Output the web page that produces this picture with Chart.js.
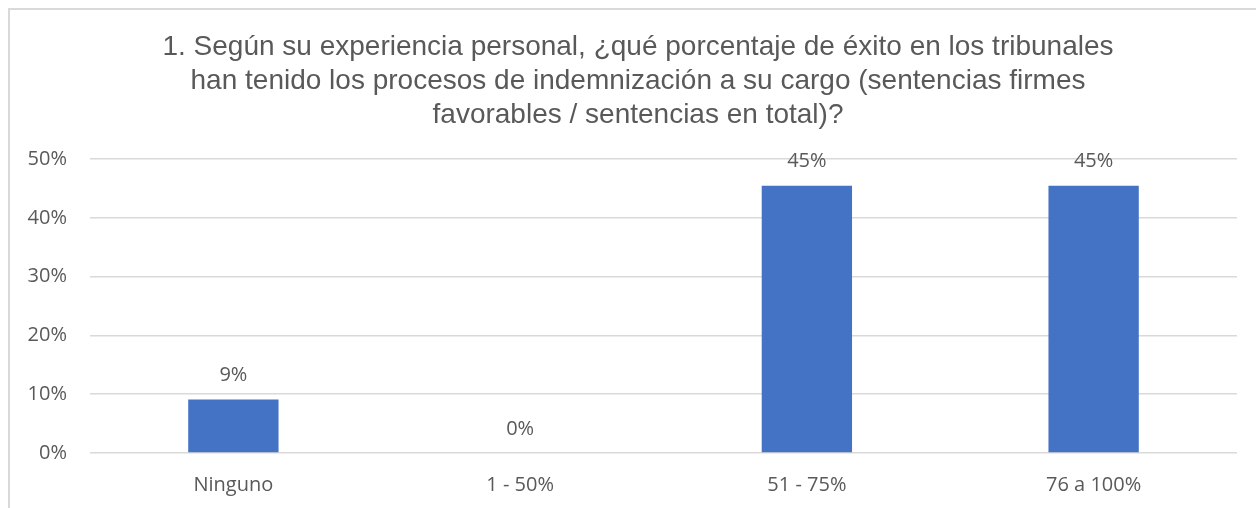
<!DOCTYPE html>
<html>
<head>
<meta charset="utf-8">
<style>
  html, body { margin: 0; padding: 0; background: #fff; }
  #wrap { position: relative; width: 1256px; height: 508px; overflow: hidden; }
  #frame { position: absolute; left: 8px; top: 8px; width: 1300px; height: 600px;
           border-top: 2px solid #d9d9d9; border-left: 2px solid #d9d9d9; }
  canvas { position: absolute; left: 0; top: 0; }
</style>
</head>
<body>
<div id="wrap">
  <div id="frame"></div>
  <canvas id="myChart" width="1256" height="508"></canvas>
</div>

<script src="https://cdn.jsdelivr.net/npm/chart.js"></script>
<script>
  // data
  const categories = ['Ninguno', '1 - 50%', '51 - 75%', '76 a 100%']
  const values = [9.09, 0, 45.45, 45.45]
  const yTicks = [0, 10, 20, 30, 40, 50]
  const titleLines = [
    '1. Según su experiencia personal, ¿qué porcentaje de éxito en los tribunales',
    'han tenido los procesos de indemnización a su cargo (sentencias firmes',
    'favorables / sentencias en total)?'
  ]

  const grey = '#595959'
  const titleFont = '"Liberation Sans", Arial, sans-serif'
  const tickFont = '"Open Sans", sans-serif'

  // title, centred on the chart frame rather than the canvas
  const titleBlock = {
    id: 'titleBlock',
    afterDraw: (chart) => {
      const {ctx} = chart
      ctx.save()
      ctx.fillStyle = grey
      ctx.font = '28px ' + titleFont
      ctx.textAlign = 'center'
      ctx.textBaseline = 'middle'
      titleLines.forEach((line, i) => {
        ctx.fillText(line, 638, 47 + i * 34)
      })
      ctx.restore()
    }
  }

  // labels above the bars
  const barLabels = {
    id: 'barLabels',
    afterDatasetsDraw: (chart) => {
      const {ctx} = chart
      const meta = chart.getDatasetMeta(0)
      ctx.save()
      ctx.fillStyle = grey
      ctx.font = '20px ' + tickFont
      ctx.textAlign = 'center'
      ctx.textBaseline = 'middle'
      meta.data.forEach((bar, i) => {
        ctx.fillText(Math.round(values[i]) + '%', bar.x, bar.y - 24)
      })
      ctx.restore()
    }
  }

  const ctx = document.getElementById('myChart')

  new Chart(ctx, {
    type: 'bar',
    data: {
      labels: categories,
      datasets: [{
        data: values,
        backgroundColor: '#4472C4',
        borderWidth: 0,
        barPercentage: 0.315,
        categoryPercentage: 1
      }]
    },
    options: {
      responsive: false,
      animation: false,
      layout: {
        padding: { left: 0, right: 19, top: 159, bottom: 0 }
      },
      plugins: {
        legend: { display: false },
        tooltip: { enabled: false },
        title: { display: false }
      },
      scales: {
        x: {
          afterFit: (s) => { s.height = 55 },
          grid: { display: false, drawTicks: false },
          border: { display: false },
          ticks: {
            color: grey,
            font: { family: tickFont, size: 20, lineHeight: 1.2 },
            padding: 20
          }
        },
        y: {
          min: 0,
          max: 50,
          afterFit: (s) => { s.width = 90 },
          afterBuildTicks: (s) => { s.ticks = yTicks.map(v => ({ value: v })) },
          grid: { color: '#d9d9d9', lineWidth: 1.5, drawTicks: false },
          border: { display: false },
          ticks: {
            color: grey,
            font: { family: tickFont, size: 20 },
            padding: 23,
            callback: (v) => v + '%'
          }
        }
      }
    },
    plugins: [barLabels, titleBlock]
  })
</script>
</body>
</html>
